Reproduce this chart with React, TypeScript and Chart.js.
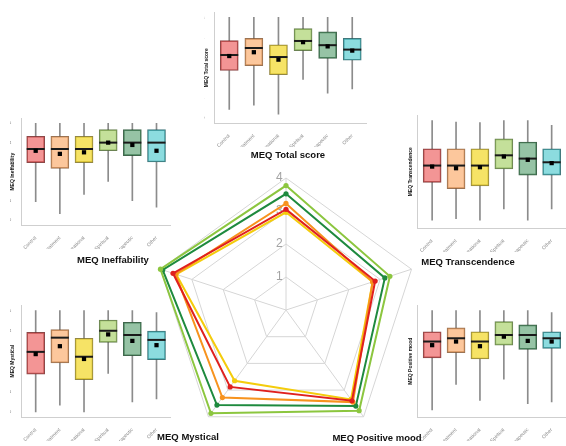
import React, { useEffect, useRef } from 'react';
import { Chart, registerables } from 'chart.js';

Chart.register(...registerables);

const FONT = '"Liberation Sans", Arial, Helvetica, sans-serif';

// ---------- Data ----------
const CATEGORIES = ['Control', 'Self-treatment', 'Recreational', 'Spiritual', 'Therapeutic', 'Other'];
const Y_TICKS = [0, 1, 2, 3, 4, 5];

// MEQ Total score
const TOTAL_LOW = [0.43, 0.64, 0.19, 1.92, 1.23, 1.44];
const TOTAL_Q1 = [2.36, 2.6, 2.15, 3.35, 2.96, 2.87];
const TOTAL_MEDIAN = [3.13, 3.48, 3.03, 3.83, 3.62, 3.4];
const TOTAL_Q3 = [3.85, 3.96, 3.64, 4.44, 4.28, 3.96];
const TOTAL_HIGH = [5, 5, 5, 5, 5, 5];
const TOTAL_MEAN = [3.08, 3.27, 2.9, 3.77, 3.56, 3.35];

// MEQ Ineffability
const INEFF_LOW = [0.95, 0.33, 1.33, 2.0, 1.0, 0.67];
const INEFF_Q1 = [2.97, 2.67, 2.97, 3.58, 3.33, 3.0];
const INEFF_MEDIAN = [3.67, 3.67, 3.67, 4.0, 4.0, 4.0];
const INEFF_Q3 = [4.33, 4.33, 4.33, 4.67, 4.67, 4.67];
const INEFF_HIGH = [5, 5, 5, 5, 5, 5];
const INEFF_MEAN = [3.58, 3.42, 3.5, 4.0, 3.88, 3.58];

// MEQ Transcendence
const TRANS_LOW = [0.13, 0.2, 0.13, 0.68, 0.13, 0.68];
const TRANS_Q1 = [1.98, 1.67, 1.81, 2.64, 2.33, 2.33];
const TRANS_MEDIAN = [2.8, 2.8, 2.8, 3.3, 3.14, 2.96];
const TRANS_Q3 = [3.62, 3.62, 3.62, 4.1, 3.95, 3.62];
const TRANS_HIGH = [5, 4.92, 4.9, 5, 5, 4.76];
const TRANS_MEAN = [2.75, 2.67, 2.72, 3.24, 3.08, 2.92];

// MEQ Mystical
const MYST_LOW = [0, 0.33, 0, 1.9, 0.49, 0.64];
const MYST_Q1 = [1.86, 2.42, 1.59, 3.43, 2.77, 2.58];
const MYST_MEDIAN = [2.96, 3.66, 2.72, 4.0, 3.79, 3.55];
const MYST_Q3 = [3.92, 4.06, 3.63, 4.53, 4.42, 3.98];
const MYST_HIGH = [5, 5, 5, 5, 5, 4.89];
const MYST_MEAN = [2.85, 3.24, 2.61, 3.82, 3.5, 3.29];

// MEQ Positive mood
const POS_LOW = [0.1, 1.35, 0.57, 1.62, 0.41, 0.49];
const POS_Q1 = [2.66, 2.92, 2.61, 3.29, 3.08, 3.13];
const POS_MEDIAN = [3.47, 3.63, 3.47, 3.79, 3.79, 3.63];
const POS_Q3 = [3.95, 4.14, 3.95, 4.45, 4.29, 3.95];
const POS_HIGH = [5, 5, 5, 5, 5, 4.89];
const POS_MEAN = [3.29, 3.47, 3.24, 3.71, 3.5, 3.47];

// Radar (axis order clockwise from top)
const RADAR_AXES = ['MEQ Total score', 'MEQ Transcendence', 'MEQ Positive mood', 'MEQ Mystical', 'MEQ Ineffability'];
const RADAR_TICKS = [1, 2, 3, 4];
const RADAR_CONTROL = [3.05, 2.84, 3.4, 2.88, 3.6];
const RADAR_SELF = [3.23, 2.76, 3.45, 3.28, 3.52];
const RADAR_RECREATIONAL = [2.96, 2.76, 3.35, 2.65, 3.5];
const RADAR_SPIRITUAL = [3.77, 3.31, 3.77, 3.87, 4.0];
const RADAR_THERAPEUTIC = [3.52, 3.15, 3.6, 3.56, 3.93];

// ---------- Styles ----------
const BOX_FILLS = [
  'rgba(236,84,84,0.62)',
  'rgba(250,165,95,0.62)',
  'rgba(242,214,30,0.68)',
  'rgba(165,208,100,0.65)',
  'rgba(80,155,105,0.6)',
  'rgba(70,198,204,0.62)',
];
const BOX_BORDERS = [
  'rgba(120,40,40,0.85)',
  'rgba(130,80,40,0.8)',
  'rgba(120,105,20,0.8)',
  'rgba(70,100,40,0.8)',
  'rgba(30,75,45,0.85)',
  'rgba(30,95,100,0.85)',
];
const RADAR_COLORS = ['#E0201E', '#F7931E', '#F4CC0C', '#8CC63F', '#1E8A3E'];
// radar placement on the page (centre and outer-ring radius, px)
const RADAR_CX = 286;
const RADAR_CY = 310;
const RADAR_R = 132;

type PanelProps = {
  left: number;
  top: number;
  width: number;
  height: number;
  yAxisWidth: number;
  xAxisHeight: number;
  yTitle: string;
  low: number[];
  q1: number[];
  median: number[];
  q3: number[];
  high: number[];
  mean: number[];
};

function BoxPanel(p: PanelProps) {
  const ref = useRef<HTMLCanvasElement>(null);
  useEffect(() => {
    const xs = CATEGORIES.map((_, i) => i + 1);
    const chart = new Chart(ref.current as HTMLCanvasElement, {
      type: 'bar',
      data: {
        datasets: [
          {
            type: 'line',
            data: xs.map((x, i) => ({ x, y: p.mean[i] })),
            showLine: false,
            pointStyle: 'rect',
            pointRadius: 3,
            pointHoverRadius: 0,
            pointBackgroundColor: '#000',
            pointBorderColor: '#000',
            pointBorderWidth: 0,
            clip: false,
          } as any,
          {
            type: 'line',
            data: xs.map((x, i) => ({ x, y: p.median[i] })),
            showLine: false,
            pointStyle: 'line',
            pointRadius: 9,
            pointHoverRadius: 0,
            pointBorderColor: '#1a1a1a',
            pointBorderWidth: 2,
            clip: false,
          } as any,
          {
            type: 'bar',
            data: xs.map((x, i) => ({ x, y: [p.q1[i], p.q3[i]] })),
            backgroundColor: BOX_FILLS,
            borderColor: BOX_BORDERS,
            borderWidth: 1,
            borderSkipped: false,
            barThickness: 18,
            grouped: false,
          } as any,
          {
            type: 'bar',
            data: xs.map((x, i) => ({ x, y: [p.q3[i], p.high[i]] })),
            backgroundColor: '#8c8c8c',
            barThickness: 1,
            grouped: false,
          } as any,
          {
            type: 'bar',
            data: xs.map((x, i) => ({ x, y: [p.low[i], p.q1[i]] })),
            backgroundColor: '#8c8c8c',
            barThickness: 1,
            grouped: false,
          } as any,
        ],
      },
      options: {
        responsive: false,
        animation: false,
        layout: { padding: 0, autoPadding: false },
        plugins: { legend: { display: false }, tooltip: { enabled: false } },
        scales: {
          x: {
            type: 'linear',
            min: 0.4,
            max: CATEGORIES.length + 0.6,
            offset: false,
            afterBuildTicks: (axis: any) => {
              axis.ticks = CATEGORIES.map((_, i) => ({ value: i + 1 }));
            },
            afterFit: (axis: any) => {
              axis.height = p.xAxisHeight;
            },
            ticks: {
              autoSkip: false,
              minRotation: 45,
              maxRotation: 45,
              padding: 2,
              color: '#8a8a8a',
              font: { size: 5, family: FONT },
              callback: (v: any) => CATEGORIES[Math.round(Number(v)) - 1] ?? '',
            },
            grid: { display: false },
            border: { display: true, color: '#cfcfcf' },
          },
          y: {
            type: 'linear',
            min: -0.25,
            max: 5.25,
            afterBuildTicks: (axis: any) => {
              axis.ticks = Y_TICKS.map((v) => ({ value: v }));
            },
            afterFit: (axis: any) => {
              axis.width = p.yAxisWidth;
            },
            ticks: { padding: 2, color: '#777', font: { size: 4, family: FONT } },
            title: {
              display: true,
              text: p.yTitle,
              color: '#111',
              padding: 0,
              font: { size: 5, weight: 'bold', family: FONT },
            },
            grid: { display: false },
            border: { display: true, color: '#cfcfcf' },
          },
        },
      } as any,
    });
    return () => chart.destroy();
  }, []);
  return (
    <canvas
      ref={ref}
      width={p.width}
      height={p.height}
      style={{ position: 'absolute', left: p.left, top: p.top, width: p.width, height: p.height }}
    />
  );
}

function Radar() {
  const ref = useRef<HTMLCanvasElement>(null);
  useEffect(() => {
    const canvas = ref.current as HTMLCanvasElement;
    const series = [RADAR_CONTROL, RADAR_SELF, RADAR_RECREATIONAL, RADAR_SPIRITUAL, RADAR_THERAPEUTIC];
    const build = () =>
      new Chart(canvas, {
        type: 'radar',
        data: {
          labels: RADAR_AXES,
          datasets: series.map((d, i) => ({
            label: CATEGORIES[i],
            data: d,
            borderColor: RADAR_COLORS[i],
            backgroundColor: RADAR_COLORS[i],
            pointBackgroundColor: RADAR_COLORS[i],
            pointBorderColor: RADAR_COLORS[i],
            pointRadius: 2.6,
            pointHoverRadius: 0,
            pointBorderWidth: 0,
            borderWidth: 2,
            fill: false,
          })),
        },
        options: {
          responsive: false,
          maintainAspectRatio: false,
          animation: false,
          layout: { padding: 0, autoPadding: false },
          plugins: { legend: { display: false }, tooltip: { enabled: false } },
          scales: {
            r: {
              min: 0,
              max: RADAR_TICKS[RADAR_TICKS.length - 1],
              afterBuildTicks: (axis: any) => {
                axis.ticks = [0, ...RADAR_TICKS].map((v) => ({ value: v }));
              },
              ticks: {
                color: '#a3a3a3',
                font: { size: 12, family: FONT },
                showLabelBackdrop: false,
                backdropPadding: 0,
                callback: (v: any) => (Number(v) === 0 ? '' : String(v) + '    '),
              },
              grid: { color: '#d6d6d6', lineWidth: 1 },
              angleLines: { color: '#d6d6d6', lineWidth: 1 },
              pointLabels: { display: false },
            },
          },
        } as any,
      });
    let chart = build();
    let r: any = chart.scales.r;
    const d = RADAR_R - r.drawingArea;
    if (Math.abs(d) > 0.25) {
      chart.destroy();
      canvas.width = Math.round(canvas.width + 2 * d);
      canvas.height = Math.round(canvas.height + 2 * d);
      chart = build();
      r = chart.scales.r;
    }
    canvas.style.position = 'absolute';
    canvas.style.left = `${RADAR_CX - r.xCenter}px`;
    canvas.style.top = `${RADAR_CY - r.yCenter}px`;
    return () => chart.destroy();
  }, []);
  return <canvas ref={ref} width={264} height={270} style={{ position: 'absolute', left: 154, top: 178 }} />;
}

const TITLE_POS = [
  [288, 155],
  [468, 262],
  [377, 438],
  [188, 437],
  [113, 260],
];

export default function App() {
  return (
    <div
      style={{
        position: 'absolute',
        left: 0,
        top: 0,
        width: 566,
        height: 446,
        background: '#fff',
        overflow: 'hidden',
        fontFamily: FONT,
      }}
    >
      <BoxPanel left={204} top={8} width={163} height={139} yAxisWidth={10.5} xAxisHeight={24}
        yTitle="MEQ Total score" low={TOTAL_LOW} q1={TOTAL_Q1} median={TOTAL_MEDIAN} q3={TOTAL_Q3} high={TOTAL_HIGH} mean={TOTAL_MEAN} />
      <BoxPanel left={10} top={114} width={161} height={135} yAxisWidth={11.2} xAxisHeight={24}
        yTitle="MEQ Ineffability" low={INEFF_LOW} q1={INEFF_Q1} median={INEFF_MEDIAN} q3={INEFF_Q3} high={INEFF_HIGH} mean={INEFF_MEAN} />
      <BoxPanel left={408} top={111} width={158} height={141} yAxisWidth={9.8} xAxisHeight={24}
        yTitle="MEQ Transcendence" low={TRANS_LOW} q1={TRANS_Q1} median={TRANS_MEDIAN} q3={TRANS_Q3} high={TRANS_HIGH} mean={TRANS_MEAN} />
      <BoxPanel left={10} top={301} width={161} height={140} yAxisWidth={11.2} xAxisHeight={24}
        yTitle="MEQ Mystical" low={MYST_LOW} q1={MYST_Q1} median={MYST_MEDIAN} q3={MYST_Q3} high={MYST_HIGH} mean={MYST_MEAN} />
      <BoxPanel left={408} top={301} width={158} height={140} yAxisWidth={9.8} xAxisHeight={24}
        yTitle="MEQ Positive mood" low={POS_LOW} q1={POS_Q1} median={POS_MEDIAN} q3={POS_Q3} high={POS_HIGH} mean={POS_MEAN} />
      <Radar />
      {RADAR_AXES.map((t, i) => (
        <div
          key={t}
          style={{
            position: 'absolute',
            left: TITLE_POS[i][0],
            top: TITLE_POS[i][1],
            transform: 'translate(-50%, -50%)',
            whiteSpace: 'nowrap',
            fontWeight: 'bold',
            fontSize: 9.5,
            lineHeight: 1,
            color: '#111',
          }}
        >
          {t}
        </div>
      ))}
    </div>
  );
}
